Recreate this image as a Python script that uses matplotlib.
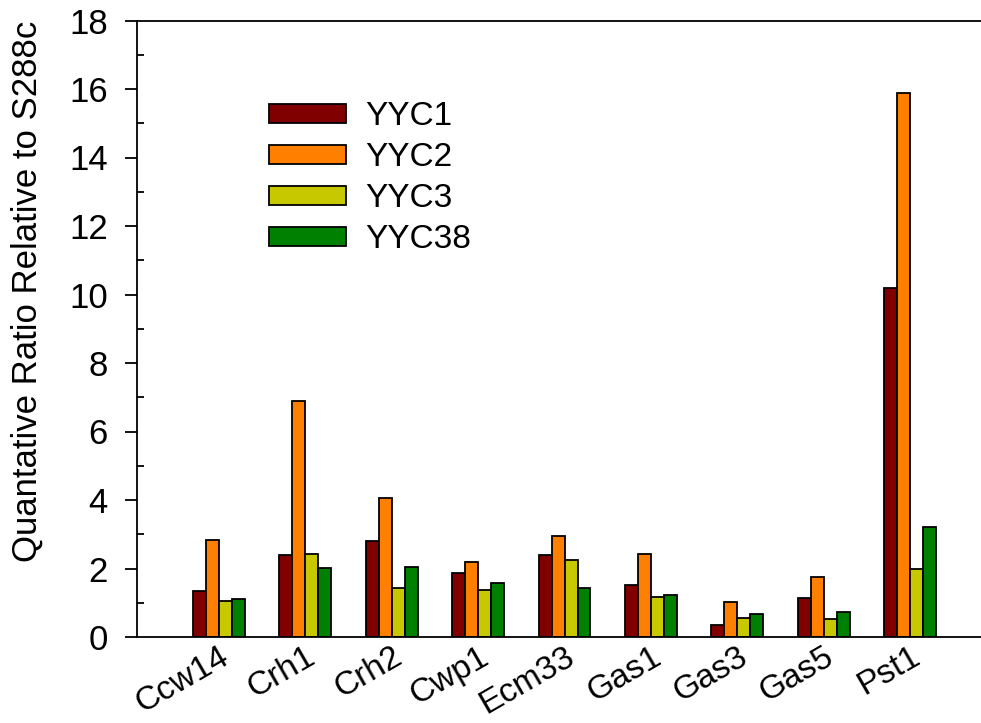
import numpy as np
import matplotlib
matplotlib.use("Agg")
import matplotlib.pyplot as plt
from matplotlib.ticker import MultipleLocator

plt.rcParams['font.family'] = ['Liberation Sans', 'DejaVu Sans']

# dados
genes = ['Ccw14', 'Crh1', 'Crh2', 'Cwp1', 'Ecm33', 'Gas1', 'Gas3', 'Gas5', 'Pst1']
yyc1 = [1.34, 2.40, 2.81, 1.88, 2.39, 1.53, 0.36, 1.15, 10.19]
yyc2 = [2.84, 6.89, 4.07, 2.18, 2.96, 2.42, 1.03, 1.76, 15.87]
yyc3 = [1.06, 2.42, 1.43, 1.37, 2.24, 1.18, 0.56, 0.52, 1.98]
yyc38 = [1.11, 2.02, 2.03, 1.57, 1.43, 1.22, 0.66, 0.72, 3.21]
series_names = ['YYC1', 'YYC2', 'YYC3', 'YYC38']
cores = ['#800000', '#ff8000', '#c8c800', '#008000']

fig = plt.figure(figsize=(9.81, 7.23), dpi=100)
ax = fig.add_axes([137/981, 86/723, (981-137)/981, (637-20.5)/723])

x = np.arange(len(genes))
largura = 0.15
for i, (vals, nome) in enumerate(zip([yyc1, yyc2, yyc3, yyc38], series_names)):
    ax.bar(x + (i - 1.5) * largura, vals, largura, color=cores[i],
           edgecolor='black', linewidth=1.3, label=nome)

ax.set_xlim(-0.949, 8.82)
ax.set_ylim(0, 18)
ax.yaxis.set_major_locator(MultipleLocator(2))
ax.yaxis.set_minor_locator(MultipleLocator(1))
ax.tick_params(axis='y', which='major', direction='out', length=9, width=1.3, labelsize=25, pad=12)
ax.tick_params(axis='y', which='minor', direction='in', length=5, width=1.3)
ax.tick_params(axis='x', length=0, labelsize=24, pad=3)
ax.set_xticks(x)
ax.set_xticklabels(genes, rotation=30, ha='right', va='top', rotation_mode='anchor')

ax.spines['right'].set_visible(False)
for s in ['left', 'bottom', 'top']:
    ax.spines[s].set_linewidth(1.3)

ax.set_ylabel('Quantative Ratio Relative to S288c', fontsize=25)
ax.yaxis.set_label_coords(-0.111, 0.5604)

leg = ax.legend(loc='upper left', bbox_to_anchor=(256/981, 1 - 88/723),
                bbox_transform=fig.transFigure, frameon=False, fontsize=24,
                handlelength=2.3, handleheight=0.54, handletextpad=0.58,
                labelspacing=0.3, borderaxespad=0)

fig.savefig('out.png', dpi=100)
